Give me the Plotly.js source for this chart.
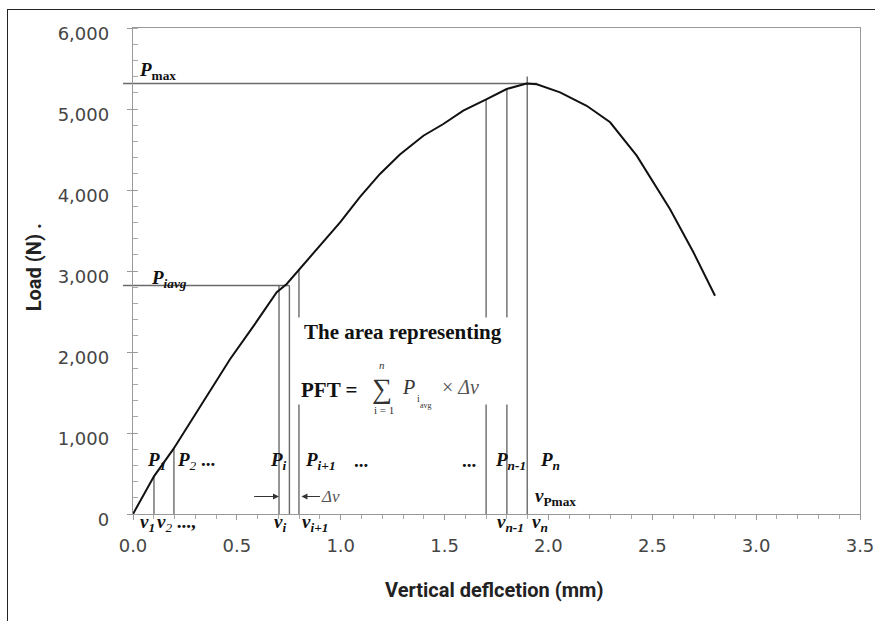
<!DOCTYPE html>
<html>
<head>
<meta charset="utf-8">
<script src="https://cdn.plot.ly/plotly-3.0.1.min.js"></script>
<style>
  html, body { margin: 0; padding: 0; background: #fff; }
  #wrap { position: relative; width: 875px; height: 621px; overflow: hidden; }
  #chart { width: 875px; height: 621px; }
  #border { position: absolute; left: 7px; top: 9px; width: 900px; height: 700px;
            border-left: 1.5px solid #222; border-top: 1.5px solid #222; pointer-events: none; }
</style>
</head>
<body>
<div id="wrap"><div id="chart"></div><div id="border"></div></div>
<script>
// ---- data ----
const deflection = [0, 0.101, 0.194, 0.467, 0.58, 0.692, 0.740, 0.788, 0.997, 1.093, 1.189, 1.285,
                    1.398, 1.494, 1.590, 1.703, 1.799, 1.895, 1.944, 2.056, 2.184, 2.297, 2.425,
                    2.585, 2.698, 2.802];
const load = [0, 465, 800, 1910, 2320, 2737, 2840, 2984, 3601, 3914, 4198, 4438,
              4670, 4815, 4979, 5123, 5247, 5315, 5305, 5206, 5040, 4836, 4424,
              3765, 3231, 2695];

// vertical marker lines (v1, v2, vi, vi', vi+1, vn-2, vn-1, vPmax)
const markerX   = [0.101, 0.197, 0.703, 0.753, 0.799, 1.700, 1.800, 1.898];
const markerTop = [465, 810, 2821, 2821, 3018, 5123, 5247, 5401];
const markerGapLow  = [null, null, null, null, 1352, 1352, 1352, null];
const markerGapHigh = [null, null, null, null, 2426, 2426, 2426, null];

// horizontal reference levels
const levelNames = ['Pmax', 'Piavg'];
const levelLoad  = [5315, 2821];
const levelStart = [-0.048, -0.048];
const levelEnd   = [1.945, 0.753];

const xTickVals = [0, 0.5, 1, 1.5, 2, 2.5, 3, 3.5];
const yTickVals = [0, 1000, 2000, 3000, 4000, 5000, 6000];
const xRange = [0, 3.5];
const yRange = [0, 6000];

// ---- build ----
const curve = {
  x: deflection, y: load, type: 'scatter', mode: 'lines',
  line: { color: '#111', width: 2 }, hoverinfo: 'skip', showlegend: false
};
const dummy = { x: [], y: [], type: 'scatter', mode: 'lines', xaxis: 'x', yaxis: 'y2', showlegend: false };

const lineStyle = { color: '#6a6a6a', width: 1.4 };
const shapes = [];
markerX.forEach((x, i) => {
  if (markerGapLow[i] === null) {
    shapes.push({ type: 'line', xref: 'x', yref: 'y', x0: x, x1: x, y0: 0, y1: markerTop[i], line: lineStyle, layer: 'below' });
  } else {
    shapes.push({ type: 'line', xref: 'x', yref: 'y', x0: x, x1: x, y0: 0, y1: markerGapLow[i], line: lineStyle, layer: 'below' });
    shapes.push({ type: 'line', xref: 'x', yref: 'y', x0: x, x1: x, y0: markerGapHigh[i], y1: markerTop[i], line: lineStyle, layer: 'below' });
  }
});
const toPaperX = v => (v - xRange[0]) / (xRange[1] - xRange[0]);
const toPaperY = v => (v - yRange[0]) / (yRange[1] - yRange[0]);
levelLoad.forEach((yv, i) => {
  shapes.push({ type: 'line', xref: 'paper', yref: 'y', x0: toPaperX(levelStart[i]), x1: toPaperX(levelEnd[i]),
                y0: yv, y1: yv, line: { color: '#6a6a6a', width: 1.4 }, layer: 'below' });
});

const serif = 'Liberation Serif, Times New Roman, serif';
const P = '<b><i>P</i></b>';
const V = '<b><i>v</i></b>';
function lab(text, x, y, size) {
  return { text: text, x: x, y: y, xref: 'x', yref: 'y', xanchor: 'left', yanchor: 'middle',
           showarrow: false, font: { family: serif, size: size || 19, color: '#111' } };
}
// labels under the axis (outside data range -> paper y)
function labBelow(text, x, y) {
  return { text: text, x: x, y: toPaperY(y), xref: 'x', yref: 'paper', xanchor: 'left', yanchor: 'middle',
           showarrow: false, font: { family: serif, size: 19, color: '#111' } };
}
const annotations = [
  lab(P + '<sub><b>max</b></sub>', 0.019, 5475),
  lab(P + '<sub><b><i>iavg</i></b></sub>', 0.077, 2907),
  lab(P + '<sub><b><i>1</i></b></sub>', 0.058, 660),
  lab(P + '<sub><i>2</i></sub> <b>...</b>', 0.202, 660),
  lab(P + '<sub><b><i>i</i></b></sub>', 0.650, 660),
  lab(P + '<sub><b><i>i+1</i></b></sub>', 0.819, 660),
  lab('<b>...</b>', 1.054, 660),
  lab('<b>...</b>', 1.574, 660),
  lab(P + '<sub><b><i>n-1</i></b></sub>', 1.733, 660),
  lab(P + '<sub><b><i>n</i></b></sub>', 1.950, 660),
  lab(V + '<sub><b>Pmax</b></sub>', 1.926, 216),
  labBelow(V + '<sub><b><i>1</i></b></sub>', 0.024, -105),
  labBelow(V + '<sub><i>2</i></sub> <b>...,</b>', 0.106, -105),
  labBelow(V + '<sub><b><i>i</i></b></sub>', 0.668, -105),
  labBelow(V + '<sub><b><i>i+1</i></b></sub>', 0.806, -105),
  labBelow(V + '<sub><b><i>n-1</i></b></sub>', 1.743, -105),
  labBelow(V + '<sub><b><i>n</i></b></sub>', 1.911, -105),
  lab('<b>The area representing</b>', 0.812, 2241, 21),
  lab('<b>PFT =</b>', 0.800, 1537, 21),
  { text: '\u2211', x: 1.199, y: 1545, xref: 'x', yref: 'y', showarrow: false, xanchor: 'center', yanchor: 'middle',
    font: { family: serif, size: 28, color: '#333' } },
  { text: '<i>n</i>', x: 1.199, y: 1840, xref: 'x', yref: 'y', showarrow: false, xanchor: 'center', yanchor: 'middle',
    font: { family: serif, size: 11, color: '#333' } },
  { text: 'i = 1', x: 1.21, y: 1290, xref: 'x', yref: 'y', showarrow: false, xanchor: 'center', yanchor: 'middle',
    font: { family: serif, size: 11, color: '#333' } },
  { text: '<i>P</i>', x: 1.286, y: 1562, xref: 'x', yref: 'y', showarrow: false, xanchor: 'left', yanchor: 'middle',
    font: { family: serif, size: 20, color: '#333' } },
  { text: 'i', x: 1.358, y: 1420, xref: 'x', yref: 'y', showarrow: false, xanchor: 'left', yanchor: 'middle',
    font: { family: serif, size: 10, color: '#333' } },
  { text: 'avg', x: 1.372, y: 1340, xref: 'x', yref: 'y', showarrow: false, xanchor: 'left', yanchor: 'middle',
    font: { family: serif, size: 8, color: '#333' } },
  { text: '\u00d7 <i>\u0394v</i>', x: 1.478, y: 1562, xref: 'x', yref: 'y', showarrow: false, xanchor: 'left', yanchor: 'middle',
    font: { family: serif, size: 20, color: '#555' } },
  // arrows
  { text: '', x: markerX[2], y: 216, ax: 0.576, ay: 216, xref: 'x', yref: 'y', axref: 'x', ayref: 'y',
    showarrow: true, arrowhead: 2, arrowsize: 1, arrowwidth: 1.2, arrowcolor: '#333' },
  { text: '<i>\u0394v</i>', x: 0.811, y: 216, ax: 0.953, ay: 216, xref: 'x', yref: 'y', axref: 'x', ayref: 'y',
    showarrow: true, arrowhead: 2, arrowsize: 1, arrowwidth: 1.2, arrowcolor: '#333',
    font: { family: serif, size: 17, color: '#555' } },
  // axis titles
  { text: '<b>Vertical deflcetion (mm)</b>', x: 0.497, y: -0.1555, xref: 'paper', yref: 'paper',
    xanchor: 'center', yanchor: 'middle', showarrow: false,
    font: { family: 'Roboto, Noto Sans, sans-serif', size: 20, color: '#222' } },
  { text: '<b>Load (N) .</b>', x: -0.136, y: 0.508, xref: 'paper', yref: 'paper', textangle: -90,
    xanchor: 'center', yanchor: 'middle', showarrow: false,
    font: { family: 'Roboto, Noto Sans, sans-serif', size: 20, color: '#222' } }
];

const tickFont = { family: 'DejaVu Sans, sans-serif', size: 18, color: '#454545' };
const layout = {
  width: 875, height: 621,
  margin: { l: 133, r: 15, t: 28, b: 107 },
  paper_bgcolor: '#fff', plot_bgcolor: '#fff',
  showlegend: false,
  xaxis: {
    range: xRange, tickvals: xTickVals, tickformat: '.1f', ticks: 'outside', ticklen: 5, tickcolor: '#999',
    minor: { dtick: 0.1, tick0: 0, ticks: 'outside', ticklen: 4, tickcolor: '#aaa' },
    showline: true, linecolor: '#999', linewidth: 1.2, mirror: true, showgrid: false, zeroline: false,
    tickfont: tickFont, ticklabelstandoff: 10
  },
  yaxis: {
    range: yRange, tickvals: yTickVals, tickformat: ',d', ticks: 'outside', ticklen: 5, tickcolor: '#999',
    minor: { dtick: 200, tick0: 0, ticks: 'inside', ticklen: 5, tickcolor: '#aaa' },
    showline: true, linecolor: '#999', linewidth: 1.2, mirror: true, showgrid: false, zeroline: false,
    tickfont: tickFont, ticklabelstandoff: 14, ticklabelshift: 6
  },
  yaxis2: {
    range: yRange, overlaying: 'y', anchor: 'x', side: 'left', tickvals: yTickVals, ticks: 'inside', ticklen: 4,
    tickcolor: '#999', showticklabels: false, showline: false, showgrid: false, zeroline: false
  },
  shapes: shapes,
  annotations: annotations
};

Plotly.newPlot('chart', [curve, dummy], layout, { staticPlot: true, displayModeBar: false });
</script>
</body>
</html>
